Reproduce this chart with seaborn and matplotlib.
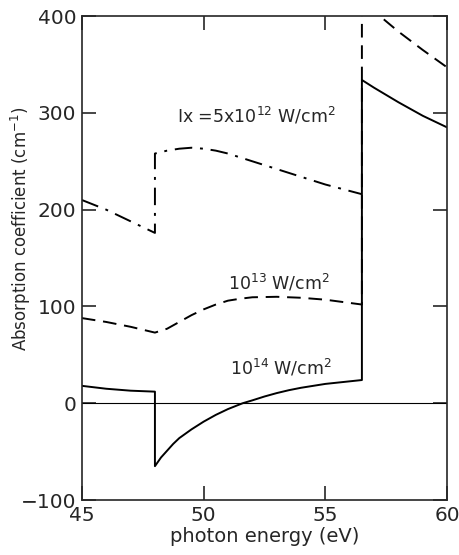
import matplotlib
matplotlib.use('Agg')
import matplotlib.pyplot as plt
import seaborn as sns
import pandas as pd

# photon energy (eV) and absorption coefficient (cm^-1)
x_5e12 = [45, 46, 47, 48, 48, 48.5, 49, 49.5, 50, 50.5, 51, 52, 53, 54, 55, 56.5]
y_5e12 = [210, 200, 188, 176, 258, 261, 263, 264, 263, 261, 258, 250, 242, 234, 226, 216]

x_1e13 = [45, 46, 47, 48, 48.5, 49, 49.5, 50, 50.5, 51, 51.5, 52, 53, 54, 55, 56.5,
          56.5, 57, 58, 59, 60]
y_1e13 = [88, 84, 79, 73, 77, 84, 91, 97, 102, 106, 108, 109.5, 110, 109, 107, 102,
          415, 405, 384, 365, 347]

x_1e14 = [45, 46, 46.5, 47, 48, 48, 48.25, 48.5, 48.75, 49, 49.5, 50, 50.5, 51, 51.6,
          52, 52.5, 53, 53.5, 54, 55, 56.5, 56.5, 57, 58, 59, 60]
y_1e14 = [18, 15, 14, 13, 12, -65, -56, -49, -42, -36, -27, -19, -12, -6, 0,
          3, 7, 10.5, 13.5, 16, 20, 24, 334, 326, 311, 297, 285]

df = pd.concat([
    pd.DataFrame({'E': x_5e12, 'alpha': y_5e12, 'I': '5e12'}),
    pd.DataFrame({'E': x_1e13, 'alpha': y_1e13, 'I': '1e13'}),
    pd.DataFrame({'E': x_1e14, 'alpha': y_1e14, 'I': '1e14'}),
], ignore_index=True)

sns.set_style('ticks')
plt.rcParams['font.family'] = ['DejaVu Sans']

fig = plt.figure(figsize=(4.6, 5.55), dpi=100)
ax = fig.add_axes([0.178, 0.099, 0.794, 0.872])

sns.lineplot(data=df, x='E', y='alpha', hue='I', style='I',
             palette={'5e12': 'black', '1e13': 'black', '1e14': 'black'},
             dashes={'5e12': (9, 4, 1.5, 4), '1e13': (7, 4), '1e14': ''},
             estimator=None, sort=False, linewidth=1.4, legend=False, ax=ax)

ax.axhline(0, color='black', linewidth=0.8)

ax.text(48.9, 290, r'Ix =5x10$^{12}$ W/cm$^2$', fontsize=12.5)
ax.text(51.0, 118, r'10$^{13}$ W/cm$^2$', fontsize=12.5)
ax.text(51.1, 30, r'10$^{14}$ W/cm$^2$', fontsize=12.5)

ax.set_xlim(45, 60)
ax.set_ylim(-100, 400)
ax.set_xticks([45, 50, 55, 60])
ax.set_yticks([-100, 0, 100, 200, 300, 400])
ax.tick_params(direction='in', length=10, width=1.2, top=True, right=True,
               labelsize=14.5, pad=4)
for s in ax.spines.values():
    s.set_linewidth(1.2)

ax.set_xlabel('photon energy (eV)', fontsize=14, labelpad=2)
ax.set_ylabel(r'Absorption coefficient (cm$^{-1}$)', fontsize=12)
ax.yaxis.set_label_coords(-0.135, 0.56)

fig.savefig('out.png', dpi=100)
